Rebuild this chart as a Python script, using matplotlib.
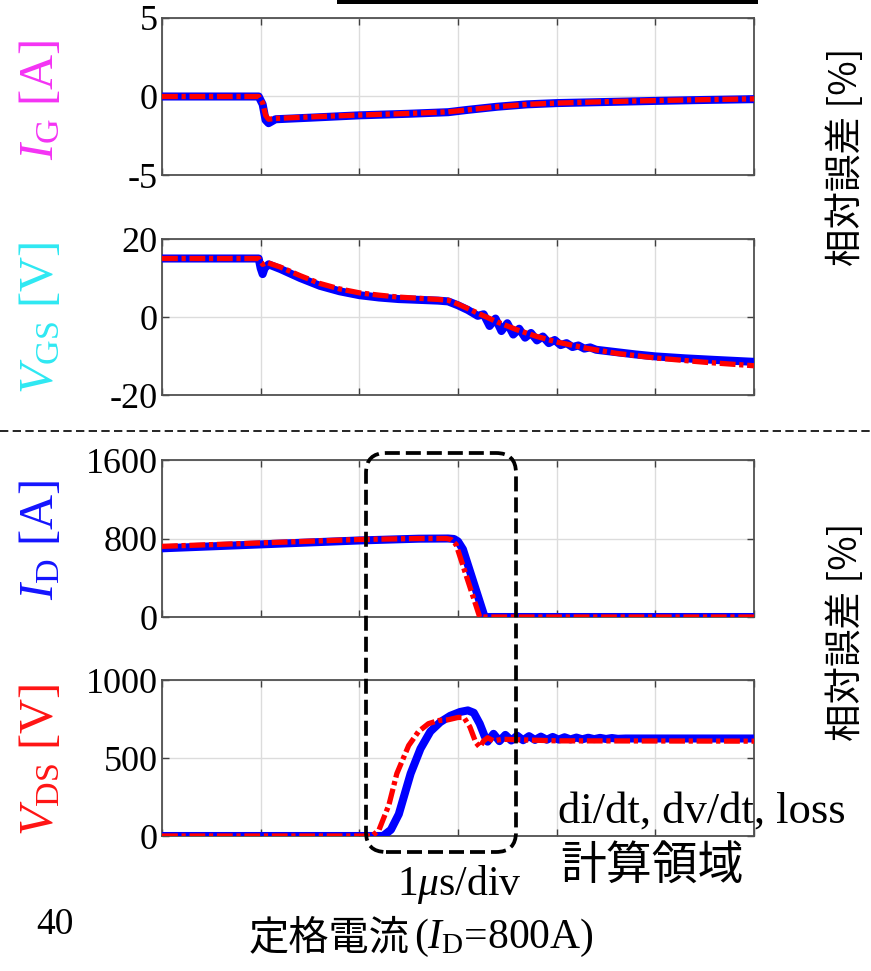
import matplotlib
matplotlib.use("Agg")
import matplotlib.pyplot as plt
from matplotlib.patches import FancyBboxPatch, Rectangle
from matplotlib.lines import Line2D
from matplotlib.transforms import IdentityTransform

plt.rcParams['font.family'] = ['Liberation Serif', 'DejaVu Serif']
plt.rcParams['mathtext.fontset'] = 'custom'
plt.rcParams['mathtext.rm'] = 'Liberation Serif'
plt.rcParams['mathtext.it'] = 'Liberation Serif:italic'

# ---------------- waveform data (time in microseconds) ----------------
# gate current I_G [A]
t_ig = [0.0, 0.98, 1.02, 1.05, 1.08, 1.15, 1.5, 2.0, 2.5, 2.9, 3.1, 3.4, 3.7, 4.0, 4.5, 5.0, 5.5, 6.0]
ig_meas = [0.0, 0.0, -0.5, -1.5, -1.7, -1.45, -1.35, -1.2, -1.1, -1.0, -0.85, -0.65, -0.5, -0.42, -0.35, -0.28, -0.22, -0.17]
ig_sim = [0.0, 0.0, -0.4, -1.2, -1.45, -1.4, -1.3, -1.18, -1.08, -0.98, -0.85, -0.65, -0.5, -0.42, -0.33, -0.26, -0.2, -0.15]

# gate-source voltage V_GS [V]
t_vgs_meas = [0.0, 0.98, 1.0, 1.02, 1.04, 1.08, 1.2, 1.4, 1.6, 1.8, 2.0, 2.2, 2.4, 2.6, 2.8, 2.9,
              3.0, 3.1, 3.2, 3.26, 3.32, 3.38, 3.44, 3.5, 3.56, 3.62, 3.68, 3.74, 3.8, 3.86, 3.92,
              3.98, 4.04, 4.1, 4.16, 4.22, 4.28, 4.34, 4.4, 4.6, 4.8, 5.0, 5.3, 5.6, 6.0]
vgs_meas = [15.0, 15.0, 12.5, 11.0, 12.5, 13.5, 12.3, 10.0, 8.0, 6.6, 5.6, 5.0, 4.6, 4.4, 4.2, 4.0,
            3.0, 1.8, 0.3, 0.7, -2.3, -0.4, -3.6, -1.6, -4.5, -3.0, -5.3, -4.1, -6.0, -5.0, -6.7,
            -5.9, -7.2, -6.7, -7.7, -7.3, -8.1, -7.8, -8.4, -9.0, -9.6, -10.1, -10.6, -11.0, -11.5]
t_vgs_sim = [0.0, 0.98, 1.02, 1.06, 1.2, 1.4, 1.6, 1.8, 2.0, 2.2, 2.4, 2.6, 2.8, 2.9, 3.0, 3.2,
             3.4, 3.6, 3.8, 4.0, 4.3, 4.6, 5.0, 5.5, 6.0]
vgs_sim = [15.0, 15.0, 13.5, 14.0, 12.8, 10.6, 8.6, 7.2, 6.2, 5.6, 5.1, 4.8, 4.5, 4.3, 3.3, 1.0,
           -1.3, -3.3, -5.0, -6.4, -8.0, -9.3, -10.5, -11.6, -12.5]

# drain current I_D [A]
t_id_meas = [0.0, 1.0, 2.0, 2.6, 2.9, 2.96, 3.0, 3.05, 3.27, 6.0]
id_meas = [700, 740, 780, 798, 800, 795, 770, 690, 0, 0]
t_id_sim = [0.0, 1.0, 2.0, 2.6, 2.88, 2.93, 2.98, 3.22, 6.0]
id_sim = [720, 755, 790, 800, 800, 790, 740, 0, 0]

# drain-source voltage V_DS [V]
t_vds_meas = [0.0, 2.24, 2.32, 2.4, 2.52, 2.62, 2.72, 2.82, 2.92, 3.02, 3.1, 3.16, 3.22, 3.27,
              3.3, 3.36, 3.42, 3.48, 3.54, 3.6, 3.66, 3.72, 3.78, 3.84, 3.9, 3.96, 4.02, 4.08,
              4.14, 4.2, 4.26, 4.32, 4.38, 4.44, 4.5, 4.56, 4.62, 4.7, 6.0]
vds_meas = [0, 0, 40, 140, 400, 560, 670, 730, 770, 795, 805, 790, 720, 640,
            605, 655, 608, 648, 612, 643, 614, 640, 616, 637, 617, 635, 618, 633,
            619, 631, 620, 630, 621, 629, 622, 628, 623, 625, 625]
t_vds_sim = [0.0, 2.13, 2.2, 2.3, 2.38, 2.5, 2.6, 2.7, 2.8, 2.9, 3.0, 3.06, 3.12, 3.18, 3.22,
             3.26, 3.3, 3.36, 3.45, 4.0, 6.0]
vds_sim = [0, 0, 40, 200, 400, 580, 670, 720, 740, 745, 760, 760, 700, 600, 570,
           610, 630, 610, 620, 610, 608]

# axis settings
ylims = [(-5, 5), (-20, 20), (0, 1600), (0, 1000)]
yticks = [[-5, 0, 5], [-20, 0, 20], [0, 800, 1600], [0, 500, 1000]]
ylabels = [r'$I_{\rm G}$ [A]', r'$V_{\rm GS}$ [V]', r'$I_{\rm D}$ [A]', r'$V_{\rm DS}$ [V]']
ylabel_colors = ['#f433f4', '#2ee8f2', '#1414ff', '#ff1414']

W, H = 871, 971
fig = plt.figure(figsize=(W / 100, H / 100), dpi=100)

def frac_box(left, top, right, bottom):
    return [left / W, 1 - bottom / H, (right - left) / W, (bottom - top) / H]

panel_px = [(18, 175), (239, 395), (460, 617), (680, 836)]
series = [
    (t_ig, ig_meas, t_ig, ig_sim),
    (t_vgs_meas, vgs_meas, t_vgs_sim, vgs_sim),
    (t_id_meas, id_meas, t_id_sim, id_sim),
    (t_vds_meas, vds_meas, t_vds_sim, vds_sim),
]
label_y = [100, 318, 540, 760]

for i, ((top, bot), (tm, ym, ts, ys)) in enumerate(zip(panel_px, series)):
    ax = fig.add_axes(frac_box(162, top, 754, bot))
    ax.plot(tm, ym, color='#0000ff', lw=5.8, solid_joinstyle='round', zorder=3)
    ax.plot(ts, ys, color='#ff0000', lw=3.8, dashes=[3.0, 0.7, 0.8, 0.7],
            dash_capstyle='butt', zorder=4)
    ax.set_xlim(0, 6)
    ax.set_ylim(*ylims[i])
    ax.set_xticks(range(0, 7))
    ax.set_xticklabels([])
    ax.set_yticks(yticks[i])
    ax.set_yticklabels([str(v) for v in yticks[i]])
    ax.grid(True, color='#dcdcdc', lw=1.0)
    ax.tick_params(direction='in', length=5, width=1.0, color='#404040',
                   top=True, right=True, labelsize=26, pad=3)
    for s in ax.spines.values():
        s.set_color('#505050')
        s.set_linewidth(1.3)
    fig.text(40 / W, 1 - label_y[i] / H, ylabels[i], rotation=90, ha='center',
             va='center', fontsize=35, color=ylabel_colors[i])

pix = IdentityTransform()

# heavy rule at the top
fig.add_artist(Rectangle((337, H - 4), 421, 10, transform=pix, color='black', lw=0))

# dashed separator between gate and drain waveforms
fig.add_artist(Line2D([0, W], [H - 431, H - 431], transform=pix, color='black',
                      lw=1.2, linestyle=(0, (5.0, 2.6))))

# calculation window
fig.add_artist(FancyBboxPatch((366, H - 852), 150, 399,
                              boxstyle='round,pad=0,rounding_size=20',
                              transform=pix, fill=False, ec='black', lw=2.7,
                              linestyle=(0, (4.0, 1.6))))

fig.text(558 / W, 1 - 812 / H, 'di/dt, dv/dt, loss', fontsize=32, ha='left', va='center')
fig.text(652 / W, 1 - 866 / H, '計算領域', fontsize=33, ha='center', va='center',
         family=['Noto Sans CJK JP'])
fig.text(459 / W, 1 - 884 / H, r'1$\mu$s/div', fontsize=30, ha='center', va='center')
fig.text(55 / W, 1 - 925 / H, '40', fontsize=27, ha='center', va='center')
fig.text(410 / W, 1 - 938 / H, '定格電流', fontsize=29, ha='right', va='center',
         family=['Noto Sans CJK JP'])
fig.text(414 / W, 1 - 938 / H, r'($I_{\rm D}$=800A)', fontsize=30, ha='left', va='center')

# neighbouring axis titles at the right edge
for yc in (157, 632):
    fig.text(866 / W, 1 - yc / H, '相対誤差 [%]', rotation=90, ha='right', va='center',
             fontsize=27, family=['Noto Sans CJK JP'])

fig.savefig('out.png', dpi=100)
